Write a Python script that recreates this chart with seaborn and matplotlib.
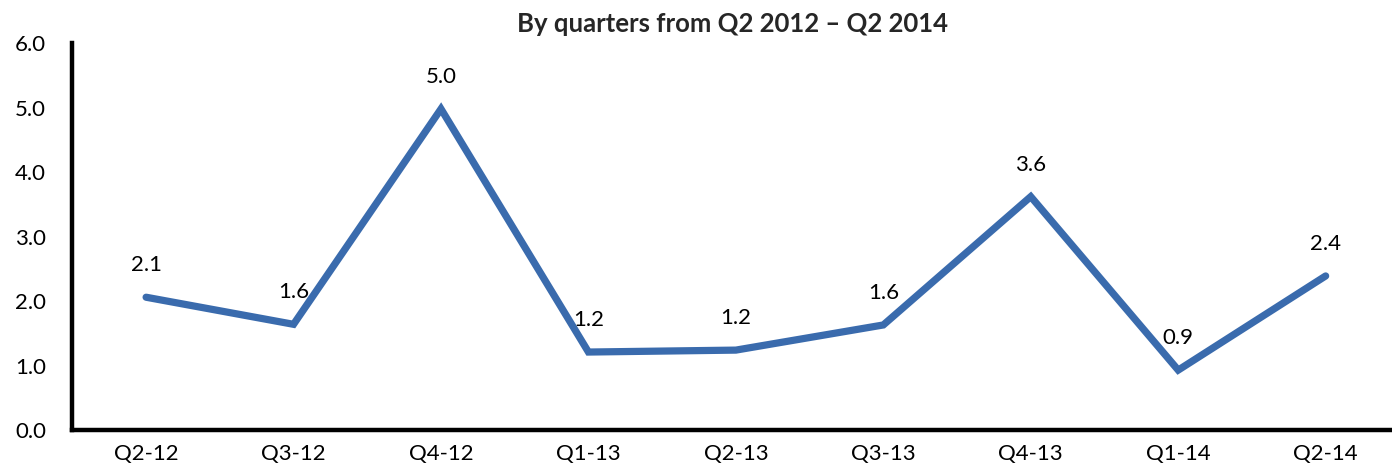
import matplotlib
matplotlib.use("Agg")
import matplotlib.pyplot as plt
import seaborn as sns
import pandas as pd

quarters = ["Q2-12", "Q3-12", "Q4-12", "Q1-13", "Q2-13", "Q3-13", "Q4-13", "Q1-14", "Q2-14"]
values = [2.06, 1.64, 4.98, 1.21, 1.24, 1.63, 3.62, 0.93, 2.39]
yticks = [0.0, 1.0, 2.0, 3.0, 4.0, 5.0, 6.0]
title = "By quarters from Q2 2012 \u2013 Q2 2014"

sns.set_theme(style="white")
plt.rcParams["font.family"] = ["Lato", "DejaVu Sans"]

df = pd.DataFrame({"quarter": quarters, "value": values})

fig = plt.figure(figsize=(13.92, 4.69), dpi=100)
ax = fig.add_axes([0.052, 0.083, 0.948, 0.825])

sns.lineplot(data=df, x="quarter", y="value", ax=ax, color="#3A6BAD",
             linewidth=5.2, sort=False, solid_capstyle="round", solid_joinstyle="miter")

for i, (q, v) in enumerate(zip(quarters, values)):
    ax.annotate(f"{v:.1f}", xy=(i, v), xytext=(0, 23), textcoords="offset points",
                ha="center", va="center", fontsize=16, color="black")

ax.set_xlim(-0.5, 8.45)
ax.set_ylim(0, 6)
ax.set_yticks(yticks)
ax.set_yticklabels([f"{t:.1f}" for t in yticks])
ax.set_xlabel("")
ax.set_ylabel("")
ax.tick_params(axis="both", length=0, labelsize=16, colors="black")
ax.tick_params(axis="y", pad=19)
ax.tick_params(axis="x", pad=10)

for s in ["top", "right"]:
    ax.spines[s].set_visible(False)
for s in ["left", "bottom"]:
    ax.spines[s].set_color("black")
    ax.spines[s].set_linewidth(3.2)

ax.set_title(title, fontsize=18.5, fontweight="bold", pad=8)

fig.savefig("out.png", dpi=100)
